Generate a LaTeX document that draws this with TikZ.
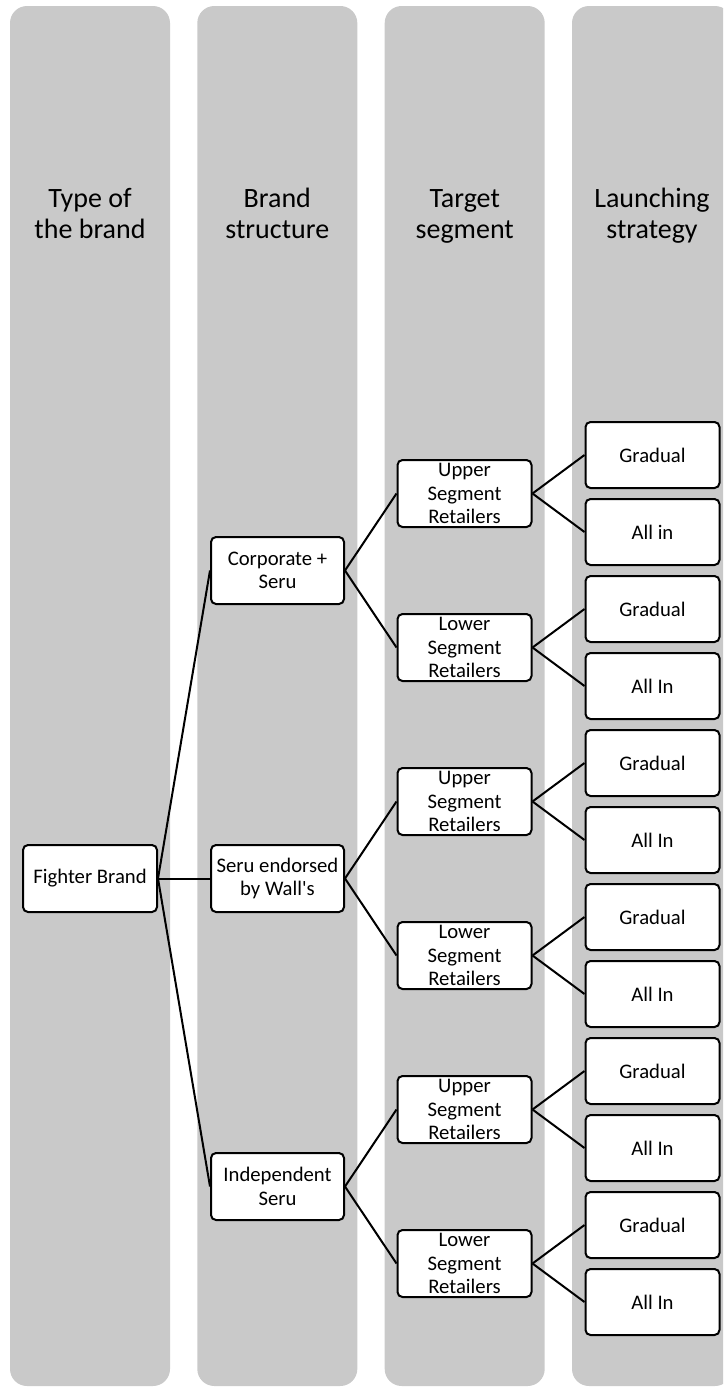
\documentclass[tikz,border=0pt]{standalone}
\usepackage{fontspec}
\setmainfont{Carlito}
\definecolor{colgray}{HTML}{C9C9C9}
\begin{document}
\begin{tikzpicture}[x=1pt,y=-1pt,
  colband/.style={fill=colgray, rounded corners=17pt},
  hdr/.style={align=center, font=\fontsize{28}{31}\selectfont, inner sep=0pt, anchor=north},
  box/.style={draw=black, line width=2pt, fill=white, rounded corners=5pt, minimum width=134pt, minimum height=67pt, inner sep=0pt, align=center, font=\fontsize{20.7}{23.3}\selectfont},
  lbox/.style={box, minimum height=66pt},
  link/.style={draw=black, line width=2pt}]
\useasboundingbox (0,0) rectangle (723,1387);
\clip (0,0) rectangle (723,1387);
% column bands
\foreach \x in {10,197.3,384.7,572} \fill[colband] (\x,6) rectangle ++(160,1380);
% headers
\node[hdr] (h1) at (90,185.3) {\strut Type of\\\strut the brand};
\node[hdr] (h2) at (277.3,185.3) {\strut Brand\\\strut structure};
\node[hdr] (h3) at (464.7,185.3) {\strut Target\\\strut segment};
\node[hdr] (h4) at (652,185.3) {\strut Launching\\\strut strategy};
% type
\node[box] (fb) at (90,878.5) {Fighter Brand};
% brand structure
\node[box, minimum width=133pt] (b1) at (277.5,570.5) {Corporate +\\Seru};
\node[box, minimum width=133pt] (b2) at (277.5,878.5) {Seru endorsed\\by Wall\textquotesingle s};
\node[box, minimum width=133pt] (b3) at (277.5,1186.5) {Independent\\Seru};
% target segment
\node[box] (t1) at (464.5,493.5) {Upper\\Segment\\Retailers};
\node[box] (t2) at (464.5,647.5) {Lower\\Segment\\Retailers};
\node[box] (t3) at (464.5,801.5) {Upper\\Segment\\Retailers};
\node[box] (t4) at (464.5,955.5) {Lower\\Segment\\Retailers};
\node[box] (t5) at (464.5,1109.5) {Upper\\Segment\\Retailers};
\node[box] (t6) at (464.5,1263.5) {Lower\\Segment\\Retailers};
% launching strategy
\node[lbox] (l1) at (652.5,455) {Gradual};
\node[lbox] (l2) at (652.5,532) {All in};
\node[lbox] (l3) at (652.5,609) {Gradual};
\node[lbox] (l4) at (652.5,686) {All In};
\node[lbox] (l5) at (652.5,763) {Gradual};
\node[lbox] (l6) at (652.5,840) {All In};
\node[lbox] (l7) at (652.5,917) {Gradual};
\node[lbox] (l8) at (652.5,994) {All In};
\node[lbox] (l9) at (652.5,1071) {Gradual};
\node[lbox] (l10) at (652.5,1148) {All In};
\node[lbox] (l11) at (652.5,1225) {Gradual};
\node[lbox] (l12) at (652.5,1302) {All In};
% connectors
\foreach \b in {b1,b2,b3} \draw[link] (fb.east) -- (\b.west);
\draw[link] (b1.east) -- (t1.west);
\draw[link] (b1.east) -- (t2.west);
\draw[link] (b2.east) -- (t3.west);
\draw[link] (b2.east) -- (t4.west);
\draw[link] (b3.east) -- (t5.west);
\draw[link] (b3.east) -- (t6.west);
\draw[link] (t1.east) -- (l1.west);
\draw[link] (t1.east) -- (l2.west);
\draw[link] (t2.east) -- (l3.west);
\draw[link] (t2.east) -- (l4.west);
\draw[link] (t3.east) -- (l5.west);
\draw[link] (t3.east) -- (l6.west);
\draw[link] (t4.east) -- (l7.west);
\draw[link] (t4.east) -- (l8.west);
\draw[link] (t5.east) -- (l9.west);
\draw[link] (t5.east) -- (l10.west);
\draw[link] (t6.east) -- (l11.west);
\draw[link] (t6.east) -- (l12.west);
\end{tikzpicture}
\end{document}
